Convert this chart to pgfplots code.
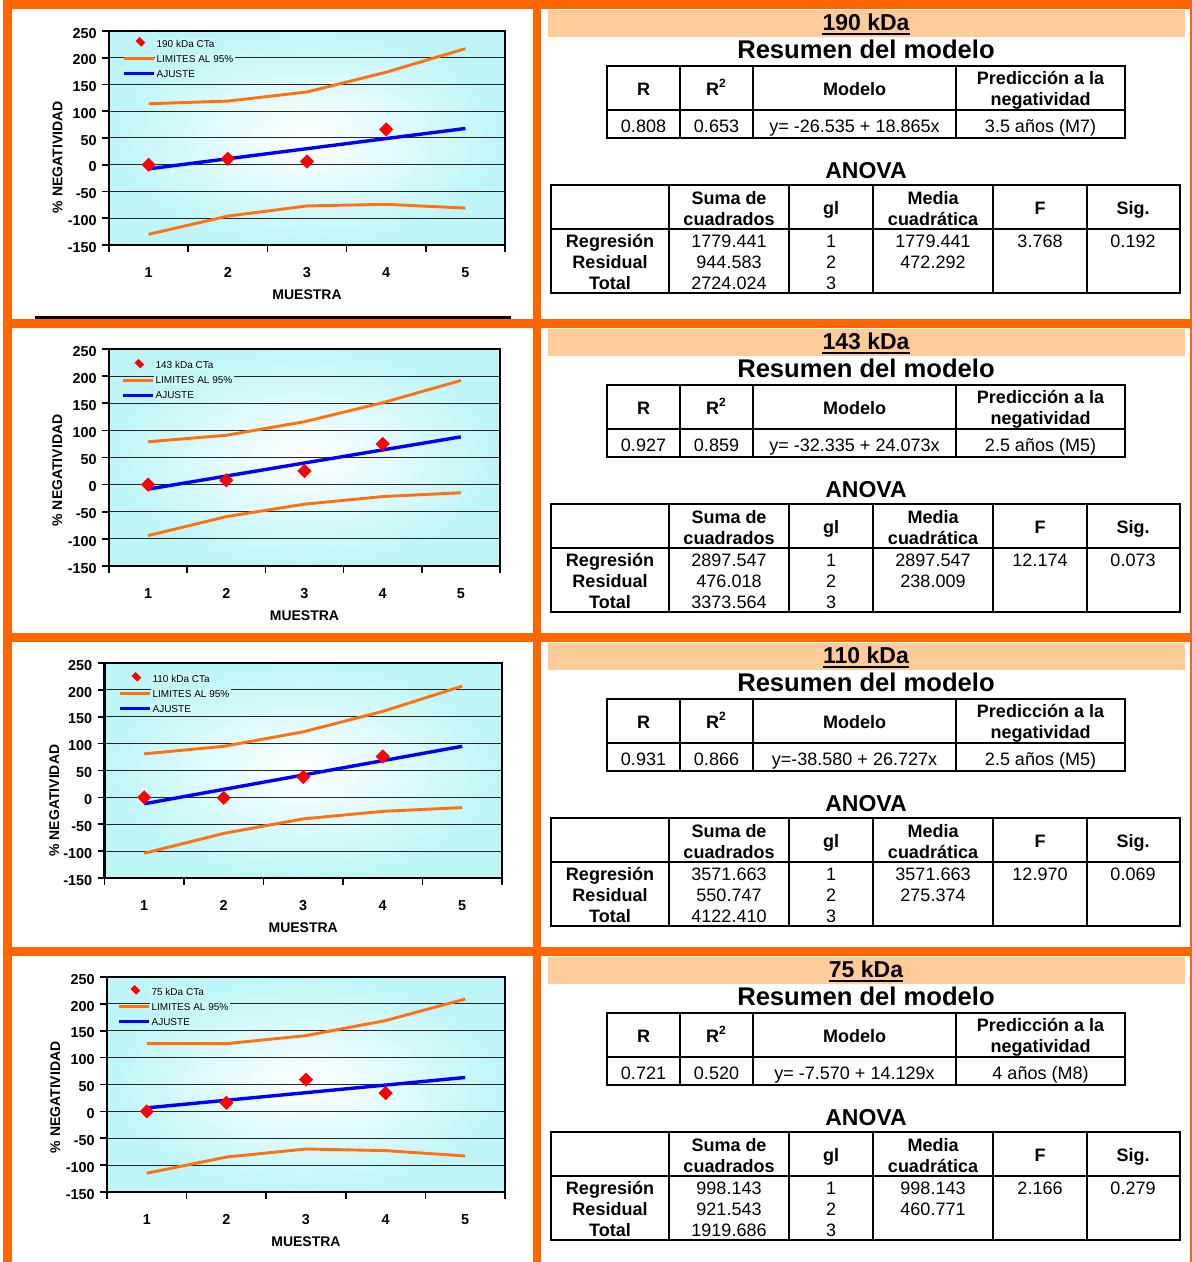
\documentclass[border=0pt]{standalone}
\usepackage{pgfplots}
\pgfplotsset{compat=1.18}
\usepackage{fontspec}
\setmainfont{Liberation Sans}
\definecolor{myorange}{RGB}{255,102,0}
\definecolor{peach}{RGB}{255,204,153}
\definecolor{cyanbg}{RGB}{190,246,248}
\definecolor{legbg}{RGB}{205,249,250}
\definecolor{limorange}{RGB}{255,112,16}

\tikzset{
  t/.style={inner sep=0pt, text height=0.716em, text depth=0pt, anchor=center, font=\fontsize{9}{10}\selectfont},
  tb/.style={inner sep=0pt, text height=0.716em, text depth=0pt, anchor=center, font=\bfseries\fontsize{9}{10}\selectfont},
}

\pgfplotsset{
  panelplot/.style={
    scale only axis,
    anchor=north west,
    xmin=0.5, xmax=5.5, ymin=-150, ymax=250,
    xtick={0.5,1.5,2.5,3.5,4.5,5.5}, xticklabels={},
    extra x ticks={1,2,3,4,5}, extra x tick labels={1,2,3,4,5},
    extra x tick style={tick style={draw=none}},
    ytick={-150,-100,-50,0,50,100,150,200,250},
    yticklabels={-150,-100,-50,0,50,100,150,200,250},
    xtick pos=bottom, ytick pos=left,
    tick align=outside,
    major tick length=3.5pt,
    tick style={black, line width=0.8pt},
    ymajorgrids, grid style={black!85, line width=0.5pt},
    axis line style={line width=1.3pt},
    axis background/.style={shade, shading=radial, inner color=white, outer color=cyanbg},
    ticklabel style={font=\bfseries\fontsize{7.2}{8}\selectfont, inner sep=0pt, text height=0.716em, text depth=0pt},
    xticklabel style={anchor=north, yshift=-5.5pt},
    yticklabel style={anchor=east, xshift=-2.5pt},
    xlabel={MUESTRA},
    ylabel={\% NEGATIVIDAD},
    xlabel style={font=\bfseries\fontsize{7}{8}\selectfont, inner sep=0pt, text height=0.716em, text depth=0pt, at={(axis description cs:0.5,0)}, anchor=center, yshift=-23.5pt},
    ylabel style={font=\bfseries\fontsize{7}{8}\selectfont, inner sep=0pt, text height=0.716em, text depth=0pt, anchor=center},
    legend style={draw=none, fill=none, at={(rel axis cs:0,1)}, anchor=north west,
      font=\fontsize{5}{6}\selectfont, nodes={inner sep=0.6pt, text height=3.6pt, text depth=0pt, fill=legbg},
      row sep=2.7pt, inner sep=0pt, outer sep=0pt},
    legend cell align=left,
    legend image code/.code={\draw[#1] (0pt,0pt) -- (15pt,0pt);},
  },
  limline/.style={limorange, line width=1.45pt},
  fitline/.style={blue, line width=1.7pt},
  pts/.style={only marks, mark=square*, mark size=2.3pt, mark options={rotate=45, fill=red, draw=red}, red},
}

\newcommand\legendentries[1]{%
  \addlegendimage{legend image code/.code={\path[draw=none, fill=none] (0pt,0pt) -- (15pt,0pt); \node[draw=red, fill=red, rotate=45, minimum size=2.4pt, inner sep=0pt] at (7.5pt,0pt) {};}}
  \addlegendentry{#1}
  \addlegendimage{limline}
  \addlegendentry{LIMITES AL 95\%}
  \addlegendimage{fitline}
  \addlegendentry{AJUSTE}
}

\newcommand\panelA[6]{%
  \fill[peach] (548,#1+10) rectangle (1185,#1+37);
  \node[inner sep=0pt, text height=0.716em, text depth=0pt, font=\bfseries\fontsize{11.5}{12}\selectfont] (ttl) at (866,#1+23) {#2};
  \draw[line width=0.9pt] ([yshift=-1.6pt]ttl.south west) -- ([yshift=-1.6pt]ttl.south east);
  \node[inner sep=0pt, text height=0.716em, text depth=0pt, font=\bfseries\fontsize{12.8}{14}\selectfont] at (866,#1+51) {Resumen del modelo};
  \draw[line width=1pt] (607,#1+66) rectangle (1125,#1+138);
  \draw[line width=1pt] (607,#1+110) -- (1125,#1+110);
  \foreach \xx in {680,753,956} {\draw[line width=1pt] (\xx,#1+66) -- (\xx,#1+138);}
  \node[tb] at (643.5,#1+88) {R};
  \node[tb] at (716.5,#1+88) {R\textsuperscript{2}};
  \node[tb] at (854.5,#1+88) {Modelo};
  \node[tb] at (1040.5,#1+77) {Predicción a la};
  \node[tb] at (1040.5,#1+98) {negatividad};
  \node[t] at (643.5,#1+125) {#3};
  \node[t] at (716.5,#1+125) {#4};
  \node[t] at (854.5,#1+125) {#5};
  \node[t] at (1040.5,#1+125) {#6};
}

\newcommand\panelB[8]{%
  \node[inner sep=0pt, text height=0.716em, text depth=0pt, font=\bfseries\fontsize{11.5}{12}\selectfont] at (866,#1+171) {ANOVA};
  \draw[line width=1.3pt] (551,#1+185) rectangle (1180,#1+293);
  \draw[line width=1.3pt] (551,#1+229) -- (1180,#1+229);
  \foreach \xx in {669,789,873,993,1087} {\draw[line width=1.3pt] (\xx,#1+185) -- (\xx,#1+293);}
  \node[tb] at (729,#1+197) {Suma de};
  \node[tb] at (729,#1+218) {cuadrados};
  \node[tb] at (831,#1+207) {gl};
  \node[tb] at (933,#1+197) {Media};
  \node[tb] at (933,#1+218) {cuadrática};
  \node[tb] at (1040,#1+207) {F};
  \node[tb] at (1133,#1+207) {Sig.};
  \node[tb] at (610,#1+240) {Regresión};
  \node[tb] at (610,#1+261) {Residual};
  \node[tb] at (610,#1+282) {Total};
  \node[t] at (729,#1+240) {#2};
  \node[t] at (831,#1+240) {1};
  \node[t] at (933,#1+240) {#3};
  \node[t] at (1040,#1+240) {#4};
  \node[t] at (1133,#1+240) {#5};
  \node[t] at (729,#1+261) {#6};
  \node[t] at (831,#1+261) {2};
  \node[t] at (933,#1+261) {#7};
  \node[t] at (729,#1+282) {#8};
  \node[t] at (831,#1+282) {3};
}

\begin{document}
\begin{tikzpicture}
\begin{scope}[x=0.5pt,y=-0.5pt]
  \useasboundingbox (0,0) rectangle (1192,1262);
  \fill[white] (0,0) rectangle (1192,1262);
  \fill[myorange] (3,0) rectangle (12,1262);
  \fill[myorange] (533,0) rectangle (541,1262);
  \fill[myorange] (1189.5,0) rectangle (1191.5,1262);
  \foreach \o in {0,319,633,947} {\fill[myorange] (3,\o) rectangle (1192,\o+9);}
  \draw[line width=1.5pt] (35,317.5) -- (511,317.5);
  \panelA{0}{190 kDa}{0.808}{0.653}{y= -26.535 + 18.865x}{3.5 años (M7)}
  \panelB{0}{1779.441}{1779.441}{3.768}{0.192}{944.583}{472.292}{2724.024}
  \panelA{319}{143 kDa}{0.927}{0.859}{y= -32.335 + 24.073x}{2.5 años (M5)}
  \panelB{319}{2897.547}{2897.547}{12.174}{0.073}{476.018}{238.009}{3373.564}
  \panelA{633}{110 kDa}{0.931}{0.866}{y=-38.580 + 26.727x}{2.5 años (M5)}
  \panelB{633}{3571.663}{3571.663}{12.970}{0.069}{550.747}{275.374}{4122.410}
  \panelA{947}{75 kDa}{0.721}{0.520}{y= -7.570 + 14.129x}{4 años (M8)}
  \panelB{947}{998.143}{998.143}{2.166}{0.279}{921.543}{460.771}{1919.686}
\end{scope}

% ---- Plot 1: 190 kDa
\begin{axis}[panelplot, at={(54.5pt,-15.5pt)}, width=198pt, height=107pt,
  ylabel style={at={(axis description cs:-0.136,0.41)}},
  legend style={xshift=6.5pt, yshift=-3.1pt}]
  \legendentries{190 kDa CTa}
  \addplot[limline, forget plot] coordinates {(1,114)(2,119)(3,136)(4,173)(5,217)};
  \addplot[limline, forget plot] coordinates {(1,-130)(2,-96)(3,-77)(4,-74)(5,-81)};
  \addplot[fitline, forget plot] coordinates {(1,-7.67)(5,67.79)};
  \addplot[pts, forget plot] coordinates {(1,0)(2,11)(3,6)(4,66)};
\end{axis}

% ---- Plot 2: 143 kDa
\begin{axis}[panelplot, at={(54.5pt,-174.5pt)}, width=195.5pt, height=108.5pt,
  ylabel style={at={(axis description cs:-0.138,0.44)}},
  legend style={xshift=6pt, yshift=-5pt}]
  \legendentries{143 kDa CTa}
  \addplot[limline, forget plot] coordinates {(1,79)(2,91)(3,116)(4,151)(5,192)};
  \addplot[limline, forget plot] coordinates {(1,-94)(2,-59)(3,-36)(4,-22)(5,-15)};
  \addplot[fitline, forget plot] coordinates {(1,-8.26)(5,88.03)};
  \addplot[pts, forget plot] coordinates {(1,0)(2,8)(3,25)(4,75)};
\end{axis}

% ---- Plot 3: 110 kDa
\begin{axis}[panelplot, at={(52.25pt,-331.5pt)}, width=198.75pt, height=107.5pt,
  ylabel style={at={(axis description cs:-0.132,0.36)}},
  legend style={xshift=6.75pt, yshift=-4.6pt}]
  \legendentries{110 kDa CTa}
  \addplot[limline, forget plot] coordinates {(1,81)(2,95)(3,122)(4,160)(5,207)};
  \addplot[limline, forget plot] coordinates {(1,-104)(2,-67)(3,-40)(4,-26)(5,-19)};
  \addplot[fitline, forget plot] coordinates {(1,-11.85)(5,95.06)};
  \addplot[pts, forget plot] coordinates {(1,0)(2,-1)(3,38)(4,76)};
\end{axis}

% ---- Plot 4: 75 kDa
\begin{axis}[panelplot, at={(53.5pt,-488.5pt)}, width=199pt, height=107.5pt,
  ylabel style={at={(axis description cs:-0.136,0.44)}},
  legend style={xshift=5pt, yshift=-4.1pt}]
  \legendentries{75 kDa CTa}
  \addplot[limline, forget plot] coordinates {(1,126)(2,126)(3,141)(4,169)(5,209)};
  \addplot[limline, forget plot] coordinates {(1,-115)(2,-85)(3,-70)(4,-73)(5,-83)};
  \addplot[fitline, forget plot] coordinates {(1,6.56)(5,63.08)};
  \addplot[pts, forget plot] coordinates {(1,0)(2,16)(3,59)(4,34)};
\end{axis}
\end{tikzpicture}
\end{document}
